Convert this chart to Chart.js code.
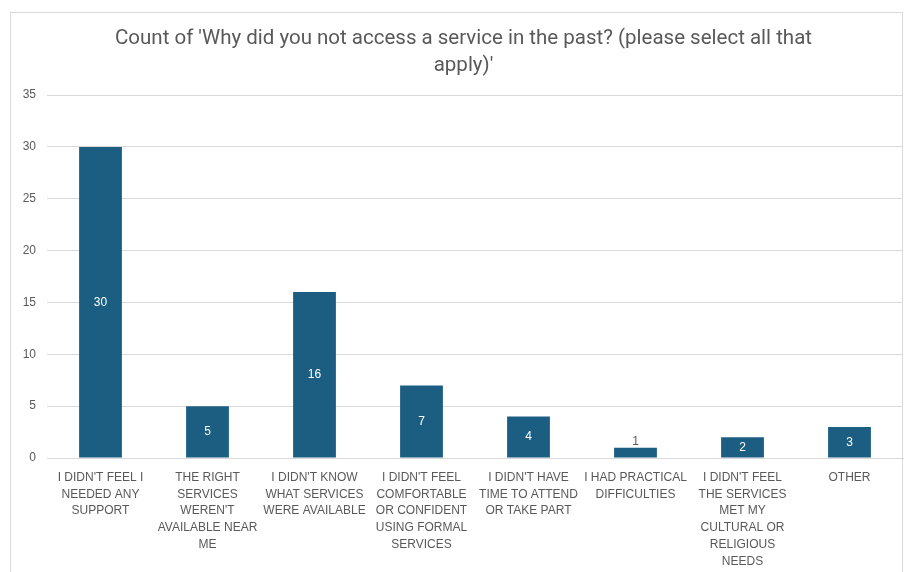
<!DOCTYPE html>
<html>
<head>
<meta charset="utf-8">
<script src="https://cdn.jsdelivr.net/npm/chart.js@4.4.1/dist/chart.umd.min.js"></script>
<style>
  html, body { margin: 0; padding: 0; background: #fff; }
  #wrap { position: relative; width: 906px; height: 572px; overflow: hidden; }
  #frame {
    position: absolute; left: 10px; top: 12px; width: 893px; height: 600px;
    border: 1px solid #d9d9d9; box-sizing: border-box;
  }
  #c { position: absolute; left: 0; top: 0; }
</style>
</head>
<body>
<div id="wrap">
  <div id="frame"></div>
  <canvas id="c" width="906" height="572"></canvas>
</div>
<script>
// ---- data ----
const categories = [
  ["I DIDN'T FEEL I", "NEEDED ANY", "SUPPORT"],
  ["THE RIGHT", "SERVICES", "WEREN'T", "AVAILABLE NEAR", "ME"],
  ["I DIDN'T KNOW", "WHAT SERVICES", "WERE AVAILABLE"],
  ["I DIDN'T FEEL", "COMFORTABLE", "OR CONFIDENT", "USING FORMAL", "SERVICES"],
  ["I DIDN'T HAVE", "TIME TO ATTEND", "OR TAKE PART"],
  ["I HAD PRACTICAL", "DIFFICULTIES"],
  ["I DIDN'T FEEL", "THE SERVICES", "MET MY", "CULTURAL OR", "RELIGIOUS", "NEEDS"],
  ["OTHER"]
];
const counts = [30, 5, 16, 7, 4, 1, 2, 3];
const yTicks = [0, 5, 10, 15, 20, 25, 30, 35];
const titleLines = ["Count of 'Why did you not access a service in the past? (please select all that", "apply)'"];

const barColor = "#1b5e82";
const gray = "#595959";

/* simple value labels, no datalabels plugin available */
const valueLabels = {
  id: "valueLabels",
  afterLayout(chart) {
    // title sits a bit right of the canvas centre in the original
    if (chart.titleBlock) chart.titleBlock.left += 24;
  },
  afterDatasetsDraw(chart) {
    const ctx = chart.ctx;
    const meta = chart.getDatasetMeta(0);
    ctx.save();
    ctx.font = "12px 'Liberation Sans', Arial, sans-serif";
    ctx.textAlign = "center";
    ctx.textBaseline = "middle";
    meta.data.forEach((bar, i) => {
      const h = bar.base - bar.y;
      if (h > 16) {
        ctx.fillStyle = "#ffffff";
        ctx.fillText(counts[i], bar.x, (bar.y + bar.base) / 2);
      } else {
        ctx.fillStyle = gray;
        ctx.fillText(counts[i], bar.x, bar.y - 6);
      }
    });
    ctx.restore();
  }
};

new Chart(document.getElementById("c"), {
  type: "bar",
  data: {
    labels: categories,
    datasets: [{
      data: counts,
      backgroundColor: barColor,
      borderWidth: 0,
      categoryPercentage: 1,
      barPercentage: 0.4
    }]
  },
  options: {
    responsive: false,
    animation: false,
    layout: { padding: { top: 0, right: 3, bottom: 0, left: 0 } },
    plugins: {
      legend: { display: false },
      tooltip: { enabled: false },
      title: {
        display: true,
        text: titleLines,
        color: gray,
        font: { family: "Roboto, sans-serif", size: 20.5, weight: "normal", lineHeight: 1.32 },
        padding: { top: 25, bottom: 16 }
      }
    },
    scales: {
      y: {
        min: 0,
        max: 35,
        afterBuildTicks(scale) { scale.ticks = yTicks.map(v => ({ value: v })); },
        afterFit(scale) { scale.width = 47; },
        grid: { color: "#d9d9d9", drawTicks: false },
        border: { display: false },
        ticks: {
          color: gray,
          padding: 11,
          font: { family: "'Liberation Sans', Arial, sans-serif", size: 12 }
        }
      },
      x: {
        afterFit(scale) { scale.height = 114; },
        grid: { display: false, drawTicks: false },
        border: { color: "#d9d9d9", width: 1 },
        ticks: {
          color: gray,
          padding: 11,
          autoSkip: false,
          maxRotation: 0,
          font: { family: "'Liberation Sans', Arial, sans-serif", size: 12, lineHeight: 1.4 }
        }
      }
    }
  },
  plugins: [valueLabels]
});
</script>
</body>
</html>
